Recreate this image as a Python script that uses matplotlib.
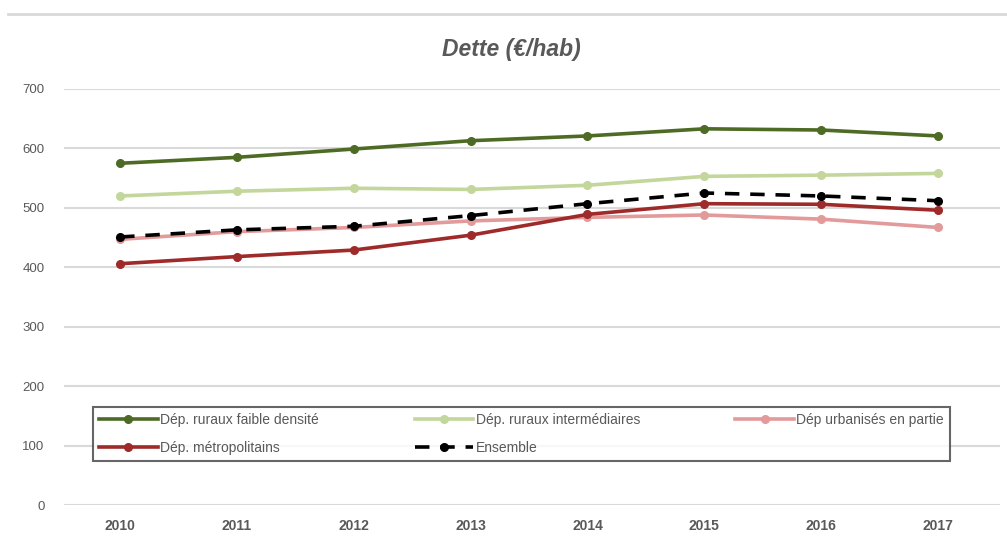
import matplotlib
matplotlib.use("Agg")
import matplotlib.pyplot as plt

years = ["2010", "2011", "2012", "2013", "2014", "2015", "2016", "2017"]
rural_faible = [575, 585, 599, 613, 621, 633, 631, 621]
rural_inter = [520, 528, 533, 531, 538, 553, 555, 558]
urbanises = [447, 460, 467, 478, 484, 488, 481, 467]
metropolitains = [406, 418, 429, 454, 489, 507, 506, 496]
ensemble = [451, 463, 469, 487, 507, 525, 520, 512]

labels = ["Dép. ruraux faible densité", "Dép. ruraux intermédiaires",
          "Dép urbanisés en partie", "Dép. métropolitains", "Ensemble"]
yticks = [0, 100, 200, 300, 400, 500, 600, 700]

plt.rcParams['font.family'] = ['Liberation Sans Narrow', 'Liberation Sans', 'DejaVu Sans']
grey = "#595959"

fig = plt.figure(figsize=(10.07, 5.4), dpi=100)
ax = fig.add_axes([0.0636, 0.0648, 0.9294, 0.7704])

x = list(range(len(years)))
series = [
    (rural_faible, "#4E6B25"),
    (rural_inter, "#C3D69B"),
    (urbanises, "#E29A9A"),
    (metropolitains, "#9E2A2A"),
]
handles = []
for (vals, col), lab in zip(series, labels[:4]):
    h, = ax.plot(x, vals, color=col, lw=2.6, marker="o", ms=5.5, label=lab, zorder=3)
    handles.append(h)
h, = ax.plot(x, ensemble, color="black", lw=2.6, ls=(0, (4, 3)), marker="o", ms=5.5,
             label=labels[4], zorder=4)
handles.append(h)

ax.set_xlim(-0.48, 7.53)
ax.set_ylim(0, 700)
ax.set_yticks(yticks)
ax.set_xticks(x)
ax.set_xticklabels(years, fontweight="bold", color=grey, fontsize=10)
ax.tick_params(axis="y", colors=grey, labelsize=9.5, length=0, pad=14)
ax.tick_params(axis="x", length=0, pad=10)
ax.grid(axis="y", color="#D9D9D9", lw=1.5)
ax.set_axisbelow(True)
for s in ax.spines.values():
    s.set_visible(False)

fig.text(0.508, 0.908, "Dette (€/hab)", ha="center", va="center", fontsize=16.5,
         fontstyle="italic", fontweight="bold", color=grey)
fig.add_artist(plt.Line2D([0.008, 1.0], [0.974, 0.974], color="#D9D9D9", lw=2,
                          transform=fig.transFigure))

order = [0, 3, 1, 4, 2]
leg = ax.legend([handles[i] for i in order], [labels[i] for i in order], ncol=3,
                loc="lower left", bbox_to_anchor=(0.031, 0.106, 0.916, 0.139),
                mode="expand", fontsize=10, frameon=True, fancybox=False,
                edgecolor="#404040", handlelength=4.2, handletextpad=0.2,
                labelspacing=1.0, borderpad=0.45,
                borderaxespad=0, labelcolor=grey)
leg.get_frame().set_linewidth(1.5)

fig.savefig("out.png", dpi=100)
